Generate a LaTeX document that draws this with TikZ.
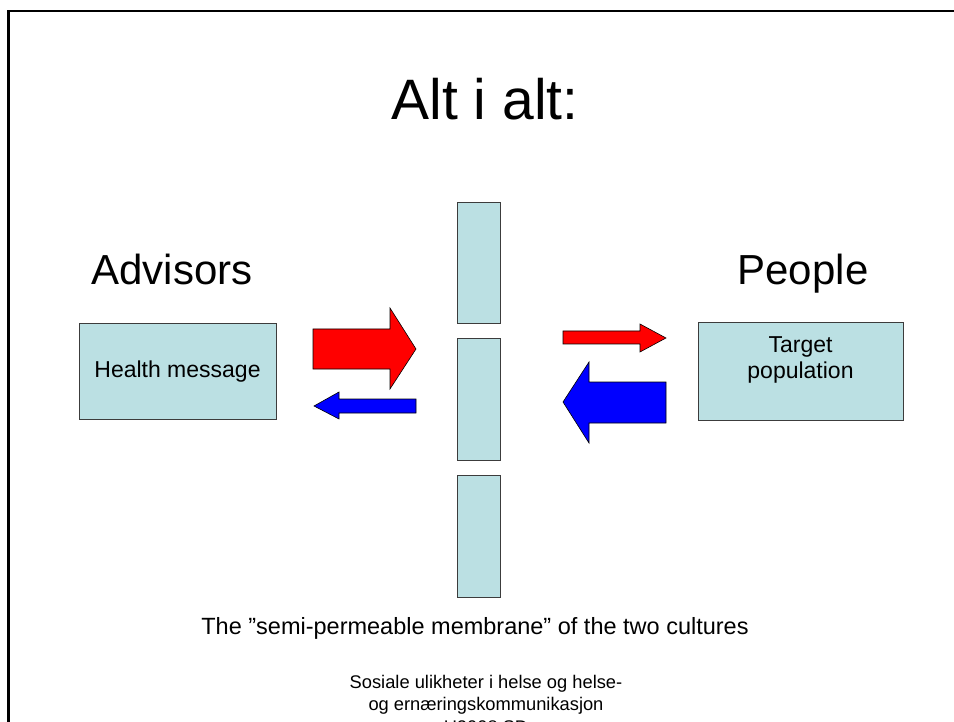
\documentclass[tikz,border=0pt]{standalone}
\usepackage{fontspec}
\setmainfont{Liberation Sans}
\definecolor{boxfill}{RGB}{187,224,227}
\definecolor{boxline}{RGB}{60,60,60}
\begin{document}
\begin{tikzpicture}[x=1pt,y=-1pt,
  panel/.style={draw=boxline,line width=1pt,fill=boxfill,inner sep=0pt,align=center,
    font=\fontsize{23}{26}\selectfont},
  blockarrow/.style={draw=black,line width=0.6pt,line join=miter}]
\useasboundingbox (0,0) rectangle (954,722);
% slide frame
\draw[line width=2.6pt] (8.5,722) -- (8.5,11) -- (954,11);
% title and headings
\node[anchor=base,font=\fontsize{57}{60}\selectfont] (title) at (485,120) {Alt i alt:};
\node[anchor=base,font=\fontsize{42}{46}\selectfont] (adv) at (172,285) {Advisors};
\node[anchor=base,font=\fontsize{42}{46}\selectfont] (ppl) at (803,285) {People};
% boxes
\node[panel,minimum width=197pt,minimum height=95pt] (health) at (177.5,371.5) {Health message};
\node[panel,minimum width=205pt,minimum height=97pt] (target) at (800.5,371.5) {};
\node[anchor=base,align=center,font=\fontsize{23}{25.5}\selectfont] (targettxt) at (800.5,378)
  {Target\\population};
% membrane
\node[panel,minimum width=43pt,minimum height=121pt] (m1) at (478.5,263.5) {};
\node[panel,minimum width=43pt,minimum height=121pt] (m2) at (478.5,399.5) {};
\node[panel,minimum width=43pt,minimum height=122pt] (m3) at (478.5,536) {};
% arrows
\draw[blockarrow,fill=red] (313,329) -- (390,329) -- (390,308) -- (416,349) -- (390,389) -- (390,369) -- (313,369) -- cycle;
\draw[blockarrow,fill=blue] (416,399) -- (339,399) -- (339,392) -- (314,406) -- (339,419) -- (339,413) -- (416,413) -- cycle;
\draw[blockarrow,fill=red] (563,331) -- (640,331) -- (640,324) -- (666,338) -- (640,352) -- (640,344) -- (563,344) -- cycle;
\draw[blockarrow,fill=blue] (666,382) -- (589,382) -- (589,362) -- (563,402) -- (589,443) -- (589,423) -- (666,423) -- cycle;
% caption and footer
\node[anchor=base,font=\fontsize{23.5}{27}\selectfont] (cap) at (475,634)
  {The ”semi-permeable membrane” of the two cultures};
\node[anchor=base,align=center,font=\fontsize{18.3}{22.5}\selectfont] (foot) at (486,733)
  {Sosiale ulikheter i helse og helse-\\og ernæringskommunikasjon\\H2008 SD};
\end{tikzpicture}
\end{document}
